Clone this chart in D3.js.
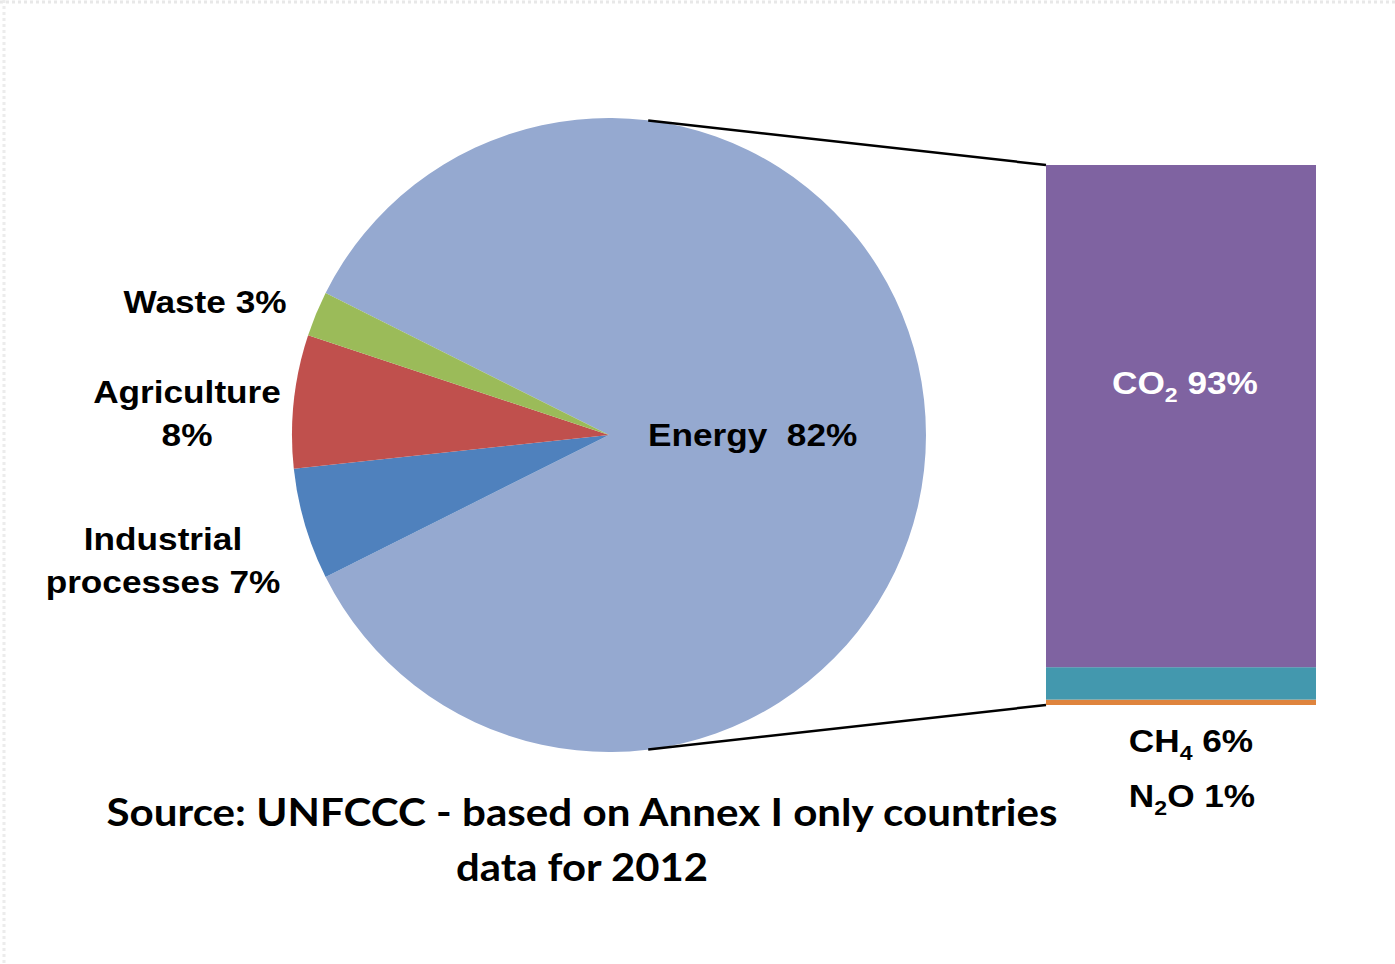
<!DOCTYPE html>
<html>
<head>
<meta charset="utf-8">
<script src="https://cdn.jsdelivr.net/npm/d3@7"></script>
<style>
  body { margin: 0; background: #fff; }
  svg { display: block; }
  text { white-space: pre; }
</style>
</head>
<body>
<svg id="chart"></svg>
<script>
// pie: sectors (shares as drawn, labels as printed)
const sectors = ["Energy", "Industrial processes", "Agriculture", "Waste"];
const sectorShares = [85.3, 5.7, 6.8, 2.3];
const sectorLabels = [["Energy  82%"], ["Industrial", "processes 7%"], ["Agriculture", "8%"], ["Waste 3%"]];

// bar: gases within energy, bottom to top
const gases = ["N2O", "CH4", "CO2"];
const gasShares = [1, 6, 93];

const sourceLines = ["Source: UNFCCC - based on Annex I only countries", "data for 2012"];

const width = 1395, height = 964;
const cx = 609, cy = 435, r = 317;
const bar = {x0: 1046, x1: 1316, top: 165, bottom: 705};

const sectorColor = d3.scaleOrdinal().domain(sectors)
  .range(["#95A9D0", "#4F81BD", "#C0504D", "#9BBB59"]);
const gasColor = d3.scaleOrdinal().domain(gases)
  .range(["#DF843D", "#4398AE", "#7F63A1"]);

const svg = d3.select("#chart").attr("width", width).attr("height", height);

// faint dotted page border
svg.append("line").attr("x1", 0).attr("x2", width).attr("y1", 2).attr("y2", 2)
  .attr("stroke", "#e8e8e8").attr("stroke-width", 3).attr("stroke-dasharray", "3,3");
svg.append("line").attr("x1", 4).attr("x2", 4).attr("y1", 0).attr("y2", height)
  .attr("stroke", "#ececec").attr("stroke-width", 3).attr("stroke-dasharray", "3,3");

// Pie, energy centred on the right side
const total = d3.sum(sectorShares);
const start = Math.PI / 2 - Math.PI * sectorShares[0] / total;
const pie = d3.pie().sort(null).startAngle(start).endAngle(start + 2 * Math.PI);
const arc = d3.arc().innerRadius(0).outerRadius(r);

const pieG = svg.append("g").attr("transform", `translate(${cx},${cy})`);
pieG.selectAll("path")
  .data(pie(sectorShares))
  .join("path")
    .attr("d", arc)
    .attr("fill", (d, i) => sectorColor(sectors[i]));

// Stacked bar
const y = d3.scaleLinear().domain([0, d3.sum(gasShares)]).range([bar.bottom, bar.top]);
const cum = d3.cumsum(gasShares);
svg.append("g").selectAll("rect")
  .data(gasShares)
  .join("rect")
    .attr("x", bar.x0)
    .attr("width", bar.x1 - bar.x0)
    .attr("y", (d, i) => y(cum[i]))
    .attr("height", d => y(0) - y(d))
    .attr("fill", (d, i) => gasColor(gases[i]));

// connector lines from pie edge to bar
const connA = 7.1 * Math.PI / 180;
[[-1, bar.top], [1, bar.bottom]].forEach(([s, yb]) => {
  svg.append("line")
    .attr("x1", cx + r * Math.sin(connA))
    .attr("y1", cy + s * r * Math.cos(connA))
    .attr("x2", bar.x0).attr("y2", yb)
    .attr("stroke", "#000").attr("stroke-width", 2.5);
});

// labels
const labelFont = "'Liberation Sans', Arial, sans-serif";
function label(x, yy, anchor, fill) {
  return svg.append("text")
    .attr("transform", `translate(${x},${yy}) scale(1.1,1)`)
    .attr("text-anchor", anchor)
    .attr("font-family", labelFont)
    .attr("font-weight", "bold")
    .attr("font-size", 32)
    .attr("fill", fill || "#000");
}

// sector label positions: [x, first baseline, anchor]
const sectorPos = [[648, 446, "start"], [163, 550, "middle"], [187, 403, "middle"], [205, 313, "middle"]];
sectorLabels.forEach((lines, i) => {
  lines.forEach((t, j) => {
    label(sectorPos[i][0], sectorPos[i][1] + j * 43, sectorPos[i][2]).text(t);
  });
});

// gas labels with subscripts
function gasLabel(x, yy, base, sub, rest, fill) {
  const t = label(x, yy, "middle", fill);
  t.append("tspan").text(base);
  t.append("tspan").attr("font-size", 21).attr("dy", 8).text(sub);
  t.append("tspan").attr("dy", -8).text(rest);
}
gasLabel(1185, 394, "CO", "2", " " + gasShares[2] + "%", "#fff");
gasLabel(1191, 752, "CH", "4", " " + gasShares[1] + "%");
gasLabel(1192, 807, "N", "2", "O " + gasShares[0] + "%");

// source note
svg.append("g").selectAll("text")
  .data(sourceLines)
  .join("text")
    .attr("x", 582)
    .attr("y", (d, i) => 826 + i * 55)
    .attr("text-anchor", "middle")
    .attr("font-family", "Lato, 'Open Sans', sans-serif")
    .attr("font-weight", "bold")
    .attr("font-size", 38)
    .attr("textLength", (d, i) => i === 0 ? 951 : 252)
    .attr("lengthAdjust", "spacingAndGlyphs")
    .text(d => d);
</script>
</body>
</html>
